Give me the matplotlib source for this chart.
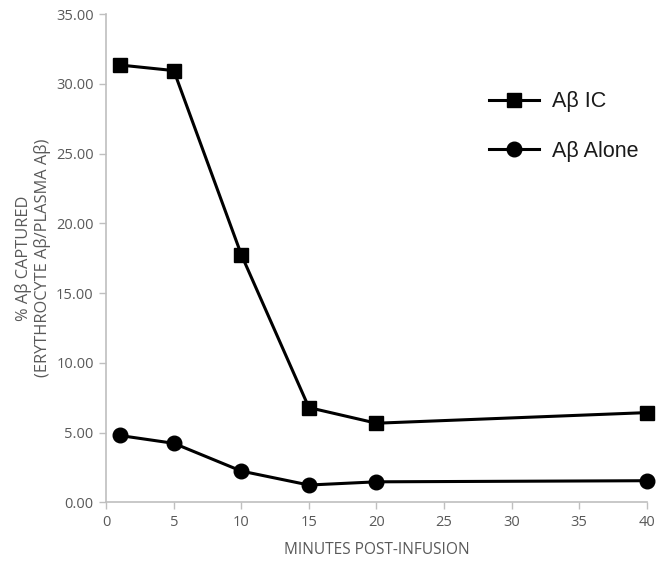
import numpy as np
import matplotlib
matplotlib.use("Agg")
import matplotlib.pyplot as plt

# data
minutes = [1, 5, 10, 15, 20, 40]
ab_ic = [31.35, 30.95, 17.75, 6.8, 5.68, 6.44]
ab_alone = [4.8, 4.24, 2.25, 1.25, 1.48, 1.56]
x_ticks = [0, 5, 10, 15, 20, 25, 30, 35, 40]
y_ticks = [0, 5, 10, 15, 20, 25, 30, 35]

gray = "#595959"
spine = "#bfbfbf"

fig = plt.figure(figsize=(6.64, 5.63), dpi=100)
ax = fig.add_axes([0.16, 0.1075, 0.814, 0.8675])

ax.plot(minutes, ab_ic, color="black", lw=2.2, marker="s", ms=10.5, label="A\u03b2 IC", clip_on=False)
ax.plot(minutes, ab_alone, color="black", lw=2.2, marker="o", ms=10.5, label="A\u03b2 Alone", clip_on=False)

ax.set_xlim(0, 40)
ax.set_ylim(0, 35)
ax.set_xticks(x_ticks)
ax.set_yticks(y_ticks)
ax.set_yticklabels(["%.2f" % v for v in y_ticks])

for s in ["top", "right"]:
  ax.spines[s].set_visible(False)
for s in ["left", "bottom"]:
  ax.spines[s].set_color(spine)
  ax.spines[s].set_linewidth(1.2)

ax.tick_params(axis="both", colors=spine, length=5, width=1, labelcolor=gray,
               labelsize=10.5, pad=4)
for lab in ax.get_xticklabels() + ax.get_yticklabels():
  lab.set_family("Open Sans")

ax.set_xlabel("MINUTES POST-INFUSION", color=gray, fontsize=11.2, family="Open Sans", labelpad=9)
ax.set_ylabel("% A\u03b2 CAPTURED\n(ERYTHROCYTE A\u03b2/PLASMA A\u03b2)", color=gray, fontsize=11.8,
              family="Open Sans", labelpad=4, linespacing=1.15)

leg = fig.legend(loc="upper left", bbox_to_anchor=(0.72, 0.857), frameon=False,
                 handlelength=2.33, handletextpad=0.6, labelspacing=1.33, borderpad=0,
                 prop={"family": "Liberation Sans", "size": 15.5})
for t in leg.get_texts():
  t.set_color("#1a1a1a")

fig.savefig("out.png", dpi=100)
